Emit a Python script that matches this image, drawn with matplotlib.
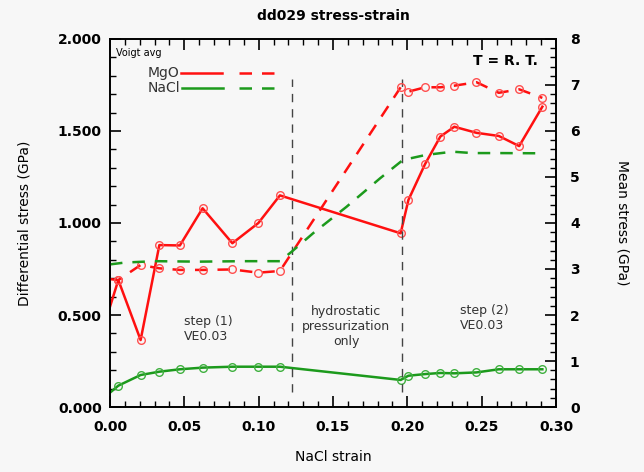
import matplotlib
matplotlib.use("Agg")
import matplotlib.pyplot as plt
from matplotlib.ticker import MultipleLocator, FormatStrFormatter

# NaCl strain for the measured points
strain = [0.0, 0.0056, 0.0206, 0.0332, 0.047, 0.0623, 0.0823, 0.0998, 0.1143,
          0.1955, 0.2007, 0.2119, 0.2222, 0.2316, 0.2465, 0.2615, 0.2752, 0.2908]

# differential stress (left axis, GPa)
mgo_diff = [0.545, 0.69, 0.364, 0.88, 0.878, 1.08, 0.89, 1.0, 1.15,
            0.944, 1.125, 1.32, 1.47, 1.523, 1.49, 1.473, 1.418, 1.632]
nacl_diff = [0.078, 0.116, 0.174, 0.192, 0.205, 0.214, 0.219, 0.219, 0.219,
             0.147, 0.17, 0.179, 0.185, 0.183, 0.188, 0.205, 0.205, 0.205]

# mean stress (right axis, GPa)
mgo_mean = [2.78, 2.76, 3.087, 3.015, 2.98, 2.98, 2.99, 2.92, 2.957,
            6.95, 6.855, 6.95, 6.95, 6.985, 7.06, 6.83, 6.906, 6.72]
nacl_mean_x = [0.0, 0.01, 0.03, 0.06, 0.09, 0.1143, 0.1222, 0.1367, 0.159,
               0.1816, 0.197, 0.2125, 0.2305, 0.2437, 0.26, 0.2908]
nacl_mean = [3.10, 3.14, 3.17, 3.16, 3.17, 3.17, 3.376, 3.78, 4.35,
             4.97, 5.37, 5.48, 5.55, 5.52, 5.52, 5.515]

step_bounds = [0.1224, 0.1963]

red = "#ff1010"
green = "#1c9a1c"
bg = "#f7f7f7"

fig = plt.figure(figsize=(6.44, 4.72), dpi=100, facecolor=bg)
ax = fig.add_axes([0.1708, 0.1377, 0.6926, 0.7797], facecolor=bg)
ax2 = ax.twinx()

marks = list(range(1, len(strain)))
mk = dict(marker="o", markersize=5.5, markerfacecolor="none", markeredgewidth=1.0,
          markevery=marks)

ax.plot(strain, mgo_diff, color=red, lw=1.8, markeredgecolor="#ff5050", **mk)
ax.plot(strain, nacl_diff, color=green, lw=1.8, markeredgecolor="#40b040", **mk)
ax2.plot(strain, mgo_mean, color=red, lw=1.8, dashes=(5, 4),
         markeredgecolor="#ff5050", **mk)
ax2.plot(nacl_mean_x, nacl_mean, color=green, lw=1.8, dashes=(5, 4))

for xb in step_bounds:
    ax.plot([xb, xb], [0.083, 1.78], color="#444444", lw=1.0, dashes=(6, 5))

ax.set_xlim(0, 0.30)
ax.set_ylim(0, 2.0)
ax2.set_ylim(0, 8)

ax.xaxis.set_major_locator(MultipleLocator(0.05))
ax.xaxis.set_minor_locator(MultipleLocator(0.01))
ax.xaxis.set_major_formatter(FormatStrFormatter("%.2f"))
ax.yaxis.set_major_locator(MultipleLocator(0.5))
ax.yaxis.set_minor_locator(MultipleLocator(0.1))
ax.yaxis.set_major_formatter(FormatStrFormatter("%.3f"))
ax2.yaxis.set_major_locator(MultipleLocator(1))
ax2.yaxis.set_minor_locator(MultipleLocator(0.2))

ax.tick_params(which="both", direction="in", top=True, labelsize=10)
ax.tick_params(which="major", length=8, width=1.2)
ax.tick_params(which="minor", length=4, width=1)
ax.tick_params(axis="x", which="major", pad=9)
ax.tick_params(axis="y", which="major", pad=6)
ax2.tick_params(which="major", direction="in", length=8, width=1.2, labelsize=10,
                pad=10)
ax2.tick_params(which="minor", direction="in", length=4, width=1)
for lab in ax.get_xticklabels() + ax.get_yticklabels() + ax2.get_yticklabels():
    lab.set_fontweight("bold")
for a in (ax, ax2):
    for s in a.spines.values():
        s.set_linewidth(1.2)

ax.set_title("dd029 stress-strain", fontsize=10, fontweight="bold", pad=14)
ax.set_xlabel("NaCl strain", fontsize=10, labelpad=12)
ax.set_ylabel("Differential stress (GPa)", fontsize=10, labelpad=19)
ax2.set_ylabel("Mean stress (GPa)", fontsize=10, rotation=-90, labelpad=36)

# legend drawn by hand, like the original
ax.text(0.014, 0.955, "Voigt avg", transform=ax.transAxes, fontsize=7)
ax.text(0.085, 0.907, "MgO", transform=ax.transAxes, fontsize=10, color="#333333",
        va="center")
ax.text(0.085, 0.868, "NaCl", transform=ax.transAxes, fontsize=10, color="#333333",
        va="center")
ax.plot([0.159, 0.25], [0.907, 0.907], transform=ax.transAxes, color=red, lw=1.8)
ax.plot([0.289, 0.385], [0.907, 0.907], transform=ax.transAxes, color=red, lw=1.8,
        dashes=(5, 4))
ax.plot([0.162, 0.253], [0.868, 0.868], transform=ax.transAxes, color=green, lw=1.8)
ax.plot([0.289, 0.385], [0.868, 0.868], transform=ax.transAxes, color=green, lw=1.8,
        dashes=(5, 4))

ax.text(0.96, 0.94, "T = R. T.", transform=ax.transAxes, fontsize=10,
        fontweight="bold", ha="right", va="center")

note = dict(fontsize=9, color="#333333", va="center", linespacing=1.2)
ax.text(0.0498, 0.425, "step (1)\nVE0.03", ha="left", **note)
ax.text(0.159, 0.44, "hydrostatic\npressurization\nonly", ha="center",
        multialignment="center", **note)
ax.text(0.2354, 0.484, "step (2)\nVE0.03", ha="left", **note)

fig.savefig("out.png", dpi=100, facecolor=bg)
